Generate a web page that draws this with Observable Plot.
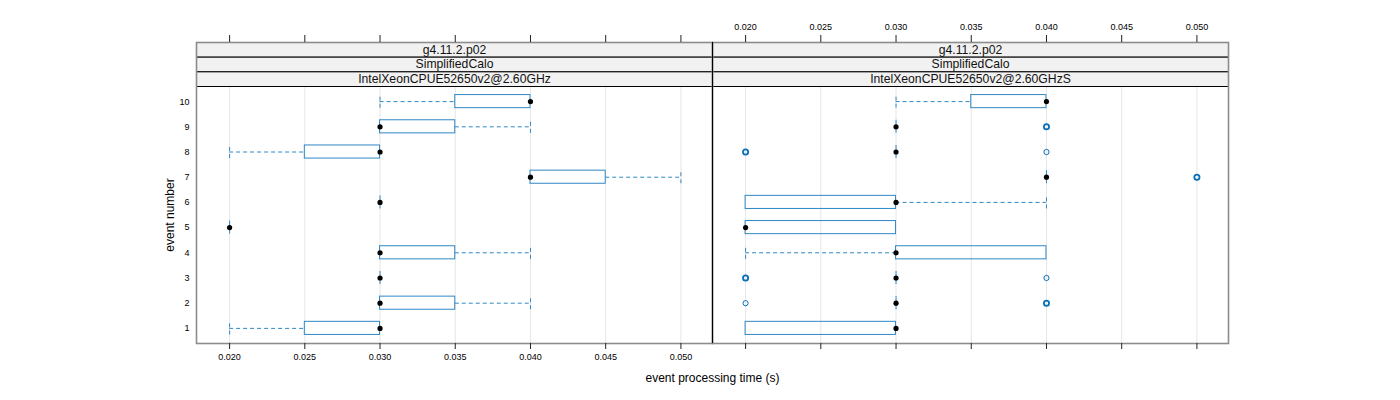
<!DOCTYPE html>
<html>
<head>
<meta charset="utf-8">
<script src="https://cdn.jsdelivr.net/npm/d3@7"></script>
<script src="https://cdn.jsdelivr.net/npm/@observablehq/plot@0.6"></script>
<style>
  html, body { margin: 0; padding: 0; background: #fff; }
  #chart { width: 1400px; height: 400px; }
</style>
</head>
<body>
<div id="chart"></div>
<script>
// ---- data ----
const panels = ["IntelXeonCPUE52650v2@2.60GHz", "IntelXeonCPUE52650v2@2.60GHzS"];
const stripTop = "g4.11.2.p02";
const stripMid = "SimplifiedCalo";
const events = [1, 2, 3, 4, 5, 6, 7, 8, 9, 10];
const xTicks = [0.020, 0.025, 0.030, 0.035, 0.040, 0.045, 0.050];
const xTickLabels = ["0.020", "0.025", "0.030", "0.035", "0.040", "0.045", "0.050"];

// panel 1 five-number summaries per event 1..10
const p1Lo  = [0.020, 0.030, 0.030, 0.030, 0.020, 0.030, 0.040, 0.020, 0.030, 0.030];
const p1Q1  = [0.025, 0.030, 0.030, 0.030, 0.020, 0.030, 0.040, 0.025, 0.030, 0.035];
const p1Med = [0.030, 0.030, 0.030, 0.030, 0.020, 0.030, 0.040, 0.030, 0.030, 0.040];
const p1Q3  = [0.030, 0.035, 0.030, 0.035, 0.020, 0.030, 0.045, 0.030, 0.035, 0.040];
const p1Hi  = [0.030, 0.040, 0.030, 0.040, 0.020, 0.030, 0.050, 0.030, 0.040, 0.040];

// panel 2
const p2Lo  = [0.020, 0.030, 0.030, 0.020, 0.020, 0.020, 0.040, 0.030, 0.030, 0.030];
const p2Q1  = [0.020, 0.030, 0.030, 0.030, 0.020, 0.020, 0.040, 0.030, 0.030, 0.035];
const p2Med = [0.030, 0.030, 0.030, 0.030, 0.020, 0.030, 0.040, 0.030, 0.030, 0.040];
const p2Q3  = [0.030, 0.030, 0.030, 0.040, 0.030, 0.030, 0.040, 0.030, 0.030, 0.040];
const p2Hi  = [0.030, 0.030, 0.030, 0.040, 0.030, 0.040, 0.040, 0.030, 0.030, 0.040];

// panel 2 outliers: event, value, count
const outEvent = [2, 2, 3, 3, 7, 8, 8, 9];
const outValue = [0.020, 0.040, 0.020, 0.040, 0.050, 0.020, 0.040, 0.040];
const outCount = [1, 3, 3, 1, 3, 3, 1, 3];

// ---- tables ----
const boxes = [];
events.forEach((e, i) => {
  boxes.push({panel: panels[0], n: e, lo: p1Lo[i], q1: p1Q1[i], med: p1Med[i], q3: p1Q3[i], hi: p1Hi[i]});
  boxes.push({panel: panels[1], n: e, lo: p2Lo[i], q1: p2Q1[i], med: p2Med[i], q3: p2Q3[i], hi: p2Hi[i]});
});
const outliers = outEvent.map((e, i) => ({panel: panels[1], n: e, v: outValue[i], c: outCount[i]}));
const lowWh = boxes.filter(d => d.lo < d.q1);
const highWh = boxes.filter(d => d.hi > d.q3);

const ticksBoth = panels.flatMap(p => xTicks.map((t, i) => ({panel: p, x: t, label: xTickLabels[i]})));
const strips = panels.flatMap(p => [
  {panel: p, level: 0, label: stripTop},
  {panel: p, level: 1, label: stripMid},
  {panel: p, level: 2, label: p}
]);

const H = 0.26;             // half box height (in event units)
const boxCol = "#2f88c6";
const outCol = "#0a70b8";
const font = "Liberation Sans, Arial, Helvetica, sans-serif";

// strip geometry (pixels relative to panel frame top at 86, bottom at 343)
const stripH = 44 / 3;
const stripFrames = [0, 1, 2].map(k => {
  const top = 42 + k * stripH;
  return Plot.frame({fill: "#f1f1f1", stroke: "#000", strokeWidth: 1,
    insetTop: top - 86, insetBottom: 343 - (top + stripH)});
});

const chart = Plot.plot({
  width: 1400,
  height: 400,
  marginLeft: 196,
  marginRight: 172,
  marginTop: 86,
  marginBottom: 57,
  style: {fontFamily: font, fontSize: "9px", background: "#fff", overflow: "visible"},
  fx: {domain: panels, padding: 0, axis: null},
  x: {domain: [0.0178, 0.0521], axis: null},
  y: {domain: [0.4, 10.6], axis: null},
  marks: [
    // grid
    Plot.ruleX(ticksBoth, {x: "x", fx: "panel", stroke: "#e6e6e6", strokeWidth: 1}),
    // strips
    ...stripFrames,
    ...[0, 1, 2].map(k => Plot.text(strips.filter(s => s.level === k), {
      fx: "panel", text: "label", frameAnchor: "top", lineAnchor: "middle",
      dy: 42 + k * stripH + stripH / 2 - 86, fontSize: 12.2, fill: "#111"})),
    // lower whiskers
    Plot.ruleY(lowWh, {fx: "panel", y: "n", x1: "lo", x2: "q1", stroke: boxCol, strokeDasharray: "4,3"}),
    Plot.ruleX(lowWh, {fx: "panel", x: "lo", y1: d => d.n - H, y2: d => d.n + H, stroke: boxCol, strokeDasharray: "4,3"}),
    // upper whiskers
    Plot.ruleY(highWh, {fx: "panel", y: "n", x1: "q3", x2: "hi", stroke: boxCol, strokeDasharray: "4,3"}),
    Plot.ruleX(highWh, {fx: "panel", x: "hi", y1: d => d.n - H, y2: d => d.n + H, stroke: boxCol, strokeDasharray: "4,3"}),
    // boxes
    Plot.rect(boxes.filter(d => d.q3 > d.q1), {fx: "panel", x1: "q1", x2: "q3", y1: d => d.n - H, y2: d => d.n + H,
      fill: "none", stroke: boxCol, strokeWidth: 1}),
    Plot.ruleX(boxes.filter(d => d.q3 === d.q1), {fx: "panel", x: "q1", y1: d => d.n - H, y2: d => d.n + H,
      stroke: boxCol, strokeWidth: 1}),
    // outliers
    Plot.dot(outliers, {fx: "panel", x: "v", y: "n", r: 2.6, fill: "none", stroke: outCol,
      strokeWidth: d => d.c > 1 ? 1.8 : 1}),
    // medians
    Plot.dot(boxes, {fx: "panel", x: "med", y: "n", r: 2.6, fill: "#000", stroke: "none"}),
    // outer frame (panel + strips)
    Plot.frame({stroke: "#8c8c8c", strokeWidth: 1.6, insetTop: -44}),
    // separator between panels
    Plot.ruleX([{panel: panels[1]}], {fx: "panel", x: () => 0.0178, stroke: "#000", strokeWidth: 1, insetTop: -44}),
    // bottom ticks (both panels), labels left only
    Plot.ruleX(ticksBoth, {fx: "panel", x: "x", stroke: "#222", insetTop: 257, insetBottom: -6}),
    Plot.text(ticksBoth.filter(d => d.panel === panels[0]), {fx: "panel", x: "x", text: "label",
      frameAnchor: "bottom", lineAnchor: "middle", dy: 14, fontSize: 9, fill: "#000"}),
    // top ticks (both panels), labels right only
    Plot.ruleX(ticksBoth, {fx: "panel", x: "x", stroke: "#222", insetTop: -51, insetBottom: 301}),
    Plot.text(ticksBoth.filter(d => d.panel === panels[1]), {fx: "panel", x: "x", text: "label",
      frameAnchor: "top", lineAnchor: "middle", dy: -59, fontSize: 9, fill: "#000"}),
    // y tick labels
    Plot.text(events.map(e => ({panel: panels[0], n: e})), {fx: "panel", y: "n", text: d => String(d.n),
      frameAnchor: "left", dx: -7, textAnchor: "end", fontSize: 9, fill: "#000"}),
    // axis titles
    Plot.text([{panel: panels[0]}], {fx: "panel", text: () => "event processing time (s)",
      frameAnchor: "bottom-right", lineAnchor: "middle", dy: 35, textAnchor: "middle", fontSize: 12, fill: "#000"}),
    Plot.text([{panel: panels[0]}], {fx: "panel", text: () => "event number",
      frameAnchor: "left", lineAnchor: "middle", dx: -26, rotate: -90, textAnchor: "middle", fontSize: 12, fill: "#000"})
  ]
});
document.getElementById("chart").appendChild(chart);
</script>
</body>
</html>
